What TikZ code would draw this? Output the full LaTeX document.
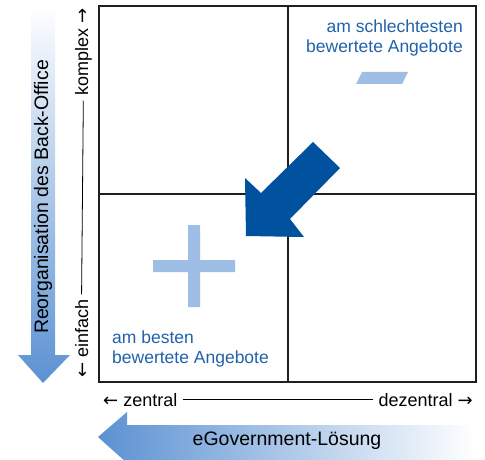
\documentclass[tikz,border=0pt]{standalone}
\usepackage{fontspec}
\setmainfont{Liberation Sans}
\newfontfamily\pfeilfont{DejaVu Sans}
\newcommand{\lpfeil}{{\pfeilfont ←}}
\newcommand{\rpfeil}{{\pfeilfont →}}
\definecolor{dunkelblau}{HTML}{00519E}
\definecolor{textblau}{HTML}{2062AA}
\definecolor{hellblau}{HTML}{9EBEE6}
\definecolor{pfeilblau}{HTML}{5B91D2}
\begin{document}
\begin{tikzpicture}[x=1pt,y=1pt,font=\fontsize{18}{20}\selectfont,
  gitter/.style={line width=2.6pt,draw=black!88},
  bewertung/.style={text=textblau,inner sep=0pt,font=\fontsize{17.5}{20}\selectfont},
  achse/.style={inner sep=0pt},
  pfeiltext/.style={inner sep=0pt,font=\fontsize{19.5}{22}\selectfont}]
  \useasboundingbox (0,0) rectangle (485,459);
  % Pfeile am Rand
  \shade[top color=white,bottom color=pfeilblau] (31,455) -- (55,455) -- (55,104) -- (70,104)
    -- (43,76) -- (18,104) -- (31,104) -- cycle;
  \shade[left color=pfeilblau,right color=white] (476,34) -- (127,34) -- (127,47)
    -- (98,22) -- (127,-4) -- (127,-2) -- (476,-2) -- cycle;
  \node[pfeiltext,rotate=90,anchor=base] (reorg) at (48,262) {Reorganisation des Back-Office};
  \node[pfeiltext,anchor=base] (loesung) at (287,14) {eGovernment-Lösung};
  % Matrix
  \draw[gitter] (99,453) rectangle (476,77);
  \draw[gitter] (288,453) -- (288,77);
  \draw[gitter] (99,265) -- (476,265);
  % Achsen
  \node[achse,anchor=base west] (zentral) at (103,53) {\lpfeil\ zentral};
  \node[achse,anchor=base east] (dezentral) at (473,53) {dezentral \rpfeil};
  \draw[line width=0.8pt] ([xshift=5pt]zentral.east) -- ([xshift=-5pt]dezentral.west);
  \node[achse,rotate=90,anchor=base west] (einfach) at (88,81) {\lpfeil\ einfach};
  \node[achse,rotate=90,anchor=base east] (komplex) at (88,451) {komplex \rpfeil};
  \draw[line width=0.8pt] ([yshift=5pt]einfach.east) -- ([yshift=-5pt]komplex.west);
  % Bewertungen
  \node[bewertung,align=right,anchor=north east] (schlecht) at (463,439)
    {am schlechtesten\\bewertete Angebote};
  \node[bewertung,align=left,anchor=north west] (gut) at (112,128)
    {am besten\\bewertete Angebote};
  \fill[hellblau] (362,387) -- (408,387) -- (402,375) -- (356,375) -- cycle;
  \fill[hellblau] (153,199) rectangle (235,187) (188,234) rectangle (200,152);
  \fill[dunkelblau] (246,223) -- (245,281) -- (261,266) -- (313,317) -- (340,291)
    -- (290,240) -- (304,222) -- cycle;
\end{tikzpicture}
\end{document}
